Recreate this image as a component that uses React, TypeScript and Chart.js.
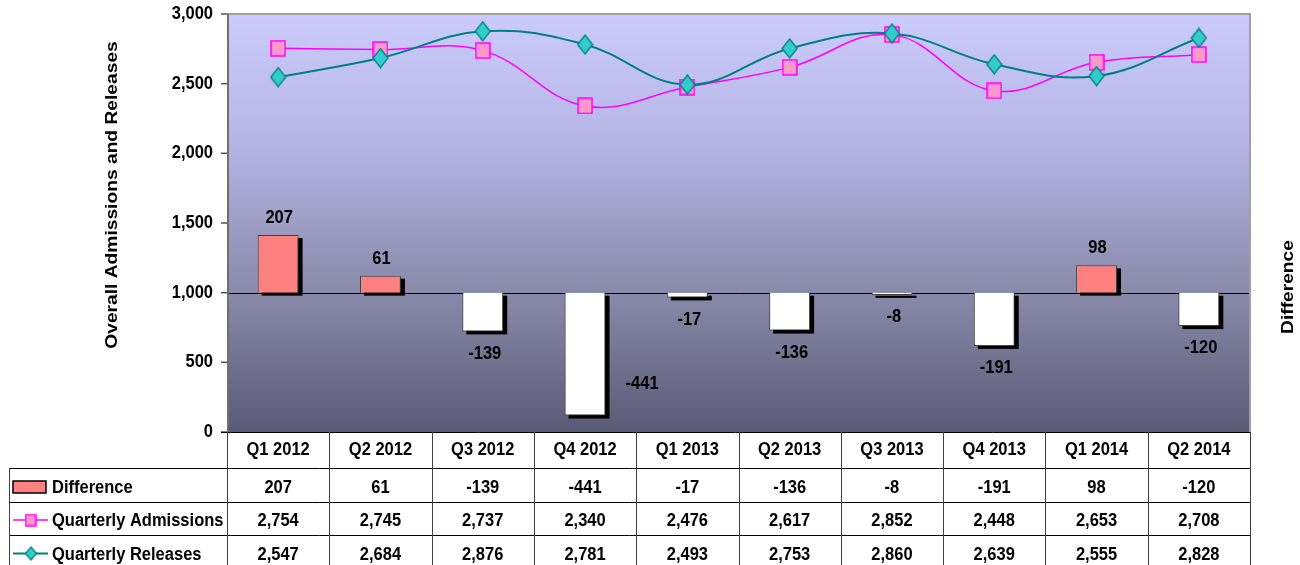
import { useEffect, useRef } from 'react';
import { Chart, registerables } from 'chart.js';

Chart.register(...registerables);

const categories = ['Q1 2012', 'Q2 2012', 'Q3 2012', 'Q4 2012', 'Q1 2013', 'Q2 2013', 'Q3 2013', 'Q4 2013', 'Q1 2014', 'Q2 2014'];
const difference = [207, 61, -139, -441, -17, -136, -8, -191, 98, -120];
const admissions = [2754, 2745, 2737, 2340, 2476, 2617, 2852, 2448, 2653, 2708];
const releases = [2547, 2684, 2876, 2781, 2493, 2753, 2860, 2639, 2555, 2828];
const leftTicks = [0, 500, 1000, 1500, 2000, 2500, 3000];
const seriesNames = ['Difference', 'Quarterly Admissions', 'Quarterly Releases'];

const FONT = 'bold 16.5px "Liberation Sans", Arial, sans-serif';
const TITLE_FONT = 'bold 17px "Liberation Sans", Arial, sans-serif';
const SY = 1.13;

function drawText(ctx: CanvasRenderingContext2D, s: string, x: number, y: number, align: CanvasTextAlign = 'center', rotate = false) {
  ctx.save();
  ctx.translate(x, y);
  if (rotate) {
    ctx.rotate(-Math.PI / 2);
    ctx.scale(SY, 1);
    ctx.font = TITLE_FONT;
  } else {
    ctx.scale(1, SY);
    ctx.font = FONT;
  }
  ctx.fillStyle = '#000';
  ctx.textAlign = align;
  ctx.textBaseline = 'middle';
  ctx.fillText(s, 0, 0);
  ctx.restore();
}

function makeSquare(w: number, h: number) {
  const c = document.createElement('canvas');
  c.width = w;
  c.height = h;
  const g = c.getContext('2d')!;
  g.fillStyle = '#ff99cc';
  g.strokeStyle = '#ff00ff';
  g.lineWidth = 1.5;
  g.fillRect(1, 1, w - 2, h - 2);
  g.strokeRect(1, 1, w - 2, h - 2);
  return c;
}

function makeDiamond(w: number, h: number) {
  const c = document.createElement('canvas');
  c.width = w;
  c.height = h;
  const g = c.getContext('2d')!;
  g.fillStyle = '#33cccc';
  g.strokeStyle = '#008080';
  g.lineWidth = 1.3;
  g.beginPath();
  g.moveTo(w / 2, 1);
  g.lineTo(w - 1, h / 2);
  g.lineTo(w / 2, h - 1);
  g.lineTo(1, h / 2);
  g.closePath();
  g.fill();
  g.stroke();
  return c;
}

export default function App() {
  const ref = useRef<HTMLCanvasElement>(null);

  useEffect(() => {
    const square = makeSquare(16, 17);
    const diamond = makeDiamond(17, 21);
    const smallSquare = makeSquare(12, 13);
    const smallDiamond = makeDiamond(13, 15);

    const decorPlugin = {
      id: 'decor',
      beforeDraw(chart: any) {
        const { ctx, chartArea: a } = chart;
        ctx.save();
        ctx.fillStyle = '#fff';
        ctx.fillRect(0, 0, chart.width, chart.height);
        const grad = ctx.createLinearGradient(0, a.top, 0, a.bottom);
        grad.addColorStop(0, '#ccccfc');
        grad.addColorStop(0.3, '#b6b6e6');
        grad.addColorStop(0.66, '#8a8aab');
        grad.addColorStop(1, '#5a5a76');
        ctx.fillStyle = grad;
        ctx.fillRect(a.left, a.top, a.right - a.left, a.bottom - a.top);
        ctx.restore();
      },
      beforeDatasetsDraw(chart: any) {
        const { ctx, chartArea: a } = chart;
        const y2 = chart.scales.y2;
        ctx.save();
        const meta = chart.getDatasetMeta(2);
        ctx.fillStyle = '#000';
        meta.data.forEach((bar: any) => {
          const w = bar.width;
          const top = Math.min(bar.y, bar.base);
          const h = Math.abs(bar.base - bar.y);
          ctx.fillRect(bar.x - w / 2 + 4, top + 3, w, h);
        });
        const by = Math.round(y2.getPixelForValue(0)) + 0.5;
        ctx.strokeStyle = '#000';
        ctx.lineWidth = 1;
        ctx.beginPath();
        ctx.moveTo(a.left, by);
        ctx.lineTo(a.right, by);
        ctx.stroke();
        ctx.restore();
      },
      afterDraw(chart: any) {
        const { ctx, chartArea: a } = chart;
        const xs = chart.scales.x;
        const ys = chart.scales.y;
        ctx.save();

        ctx.strokeStyle = '#a0a0a0';
        ctx.lineWidth = 2;
        ctx.beginPath();
        ctx.moveTo(a.left, a.top);
        ctx.lineTo(a.right, a.top);
        ctx.lineTo(a.right, a.bottom);
        ctx.stroke();
        ctx.strokeStyle = '#707070';
        ctx.beginPath();
        ctx.moveTo(a.left + 1, a.top);
        ctx.lineTo(a.left + 1, a.bottom);
        ctx.stroke();

        ctx.strokeStyle = '#505050';
        ctx.lineWidth = 1.5;
        leftTicks.forEach((v) => {
          const y = ys.getPixelForValue(v);
          ctx.beginPath();
          ctx.moveTo(a.left - 6, y);
          ctx.lineTo(a.left, y);
          ctx.stroke();
          drawText(ctx, v.toLocaleString('en-US'), a.left - 14, y, 'right');
        });

        drawText(ctx, 'Overall Admissions and Releases', 112, 195, 'center', true);
        drawText(ctx, 'Difference', 1288, 287, 'center', true);

        const meta = chart.getDatasetMeta(2);
        meta.data.forEach((bar: any, i: number) => {
          const v = difference[i];
          if (v >= 0) {
            drawText(ctx, String(v), bar.x + 1, bar.y - 17);
          } else {
            let ly = bar.y + 22;
            let lx = bar.x + 2;
            if (ly > a.bottom - 20) {
              lx = bar.x + 57;
              ly = bar.y - 32;
            }
            drawText(ctx, String(v), lx, ly);
          }
        });

        const n = categories.length;
        const cw = (a.right - a.left) / n;
        const headerBottom = a.bottom + 36;
        const rowH = 33.5;
        const rowTops = [headerBottom, headerBottom + rowH, headerBottom + 2 * rowH];
        const tableLeft = 9;
        const bottom = chart.height;

        ctx.strokeStyle = '#000';
        ctx.lineWidth = 1;
        ctx.beginPath();
        ctx.moveTo(a.left - 6, a.bottom + 0.5);
        ctx.lineTo(a.right, a.bottom + 0.5);
        rowTops.forEach((t) => {
          ctx.moveTo(tableLeft, Math.round(t) + 0.5);
          ctx.lineTo(a.right, Math.round(t) + 0.5);
        });
        ctx.stroke();

        ctx.strokeStyle = '#404040';
        ctx.beginPath();
        for (let k = 0; k <= n; k++) {
          const x = Math.round(k === n ? a.right : xs.getPixelForValue(k) - cw / 2) + 0.5;
          ctx.moveTo(x, a.bottom);
          ctx.lineTo(x, bottom);
        }
        ctx.moveTo(tableLeft + 0.5, headerBottom);
        ctx.lineTo(tableLeft + 0.5, bottom);
        ctx.stroke();

        categories.forEach((c, i) => {
          drawText(ctx, c, xs.getPixelForValue(i), a.bottom + 18);
        });

        const rows = [
          difference.map((v) => String(v)),
          admissions.map((v) => v.toLocaleString('en-US')),
          releases.map((v) => v.toLocaleString('en-US')),
        ];
        rows.forEach((vals, r) => {
          const cy = rowTops[r] + 19.5;
          vals.forEach((s, i) => drawText(ctx, s, xs.getPixelForValue(i), cy));
          drawText(ctx, seriesNames[r], 52, cy, 'left');
        });

        let cy = rowTops[0] + 19;
        ctx.fillStyle = '#ff8080';
        ctx.fillRect(13, cy - 6, 33, 12);
        ctx.strokeStyle = '#000';
        ctx.lineWidth = 1.5;
        ctx.strokeRect(13, cy - 6, 33, 12);

        cy = rowTops[1] + 18.5;
        ctx.strokeStyle = '#ff00ff';
        ctx.lineWidth = 1.5;
        ctx.beginPath();
        ctx.moveTo(13, cy);
        ctx.lineTo(48, cy);
        ctx.stroke();
        ctx.drawImage(smallSquare, 30.5 - 6, cy - 6.5);

        cy = rowTops[2] + 18.5;
        ctx.strokeStyle = '#008080';
        ctx.lineWidth = 2;
        ctx.beginPath();
        ctx.moveTo(13, cy);
        ctx.lineTo(48, cy);
        ctx.stroke();
        ctx.drawImage(smallDiamond, 31 - 6.5, cy - 7.5);

        ctx.restore();
      },
    };

    const chart = new Chart(ref.current!, {
      type: 'bar',
      data: {
        labels: categories,
        datasets: [
          {
            type: 'line',
            label: seriesNames[2],
            data: releases,
            yAxisID: 'y',
            borderColor: '#008080',
            borderWidth: 2,
            tension: 0.4,
            pointStyle: diamond,
            pointRadius: 9,
            order: 0,
          } as any,
          {
            type: 'line',
            label: seriesNames[1],
            data: admissions,
            yAxisID: 'y',
            borderColor: '#ff00ff',
            borderWidth: 1.5,
            tension: 0.4,
            pointStyle: square,
            pointRadius: 8,
            order: 1,
          } as any,
          {
            type: 'bar',
            label: seriesNames[0],
            data: difference,
            yAxisID: 'y2',
            backgroundColor: difference.map((v) => (v >= 0 ? '#ff8080' : '#ffffff')),
            borderColor: '#404040',
            borderWidth: 1,
            barPercentage: 0.4,
            categoryPercentage: 1,
            order: 2,
          } as any,
        ],
      },
      options: {
        responsive: false,
        devicePixelRatio: 1,
        animation: false,
        layout: { padding: { left: 227, right: 50, top: 14, bottom: 133 } },
        plugins: { legend: { display: false }, tooltip: { enabled: false } },
        scales: {
          x: { display: false, offset: true },
          y: { display: false, min: 0, max: 3000 },
          y2: { display: false, position: 'right', min: -500, max: 1000 },
        },
      } as any,
      plugins: [decorPlugin],
    });
    return () => chart.destroy();
  }, []);

  return (
    <div style={{ position: 'fixed', left: 0, top: 0, width: 1300, height: 565, background: '#fff' }}>
      <canvas ref={ref} width={1300} height={565} style={{ width: 1300, height: 565, display: 'block' }} />
    </div>
  );
}
